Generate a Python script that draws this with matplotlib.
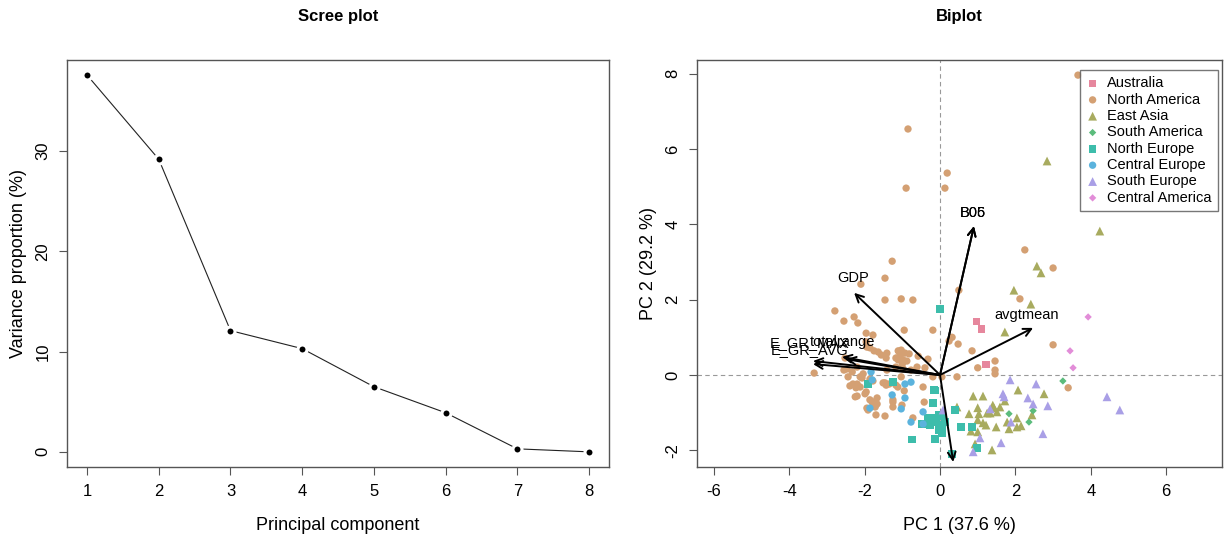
import matplotlib
matplotlib.use("Agg")
import matplotlib.pyplot as plt

plt.rcParams['font.family'] = ['Liberation Sans', 'DejaVu Sans']
plt.rcParams['axes.unicode_minus'] = False

# scree data
pcs = [1, 2, 3, 4, 5, 6, 7, 8]
var_prop = [37.6, 29.2, 12.1, 10.3, 6.5, 3.9, 0.3, 0.0]

# biplot scores per region (PC1, PC2)
australia_x = [0.98, 1.11, 1.22]
australia_y = [1.41, 1.22, 0.27]

north_america_x = [3.66, -0.85, 0.19, -0.90, 0.13, 2.25, 3.00, 2.12, -1.27, -1.46, -2.10, 0.50,
                   -1.46, -1.03, -0.72, -0.95, -0.19, 0.32, 0.24, 0.48, 0.85, -1.11, -1.03, -0.82,
                   -0.58, -0.32, -1.14, -0.98, -1.00, -0.61, -0.40, 1.00, 1.46, 1.46, 1.46, 0.45,
                   -0.19, -1.03, 3.00, 3.40, -0.45, -0.95, -1.25, -1.01, -0.42, -0.72, -2.79, -2.28,
                   -2.55, -2.18, -1.96, -1.78, -1.96, -1.75, -1.64, -1.41, -1.43, -1.17, -0.77, -1.41,
                   -2.47, -2.44, -3.34, -2.31, -2.39, -2.23, -2.12, -2.12, -2.07, -2.20, -1.96, -1.86,
                   -1.67, -1.78, -1.72, -1.67, -1.70, -1.46, -1.25, -1.25, -1.46, -1.43, -1.17, -1.12,
                   0.05, -2.55, -2.33, -2.04, -2.20, -1.86, -1.78, -1.99, -2.25, -1.80, -1.94, -1.91,
                   -1.51, -1.35, -1.94, -1.86, -1.56, -1.06, -0.93, -1.11, -0.88, -1.17, -0.98, -2.52,
                   -2.20]
north_america_y = [7.96, 6.53, 5.36, 4.96, 4.96, 3.32, 2.84, 2.02, 3.02, 2.57, 2.41, 2.25,
                   1.99, 2.02, 1.99, 1.19, 1.19, 1.00, 0.90, 0.82, 0.64, 0.64, 0.66, 0.56,
                   0.50, 0.42, 0.45, 0.40, 0.29, 0.21, 0.19, 0.19, 0.37, 0.13, 0.03, -0.05,
                   -0.05, -0.05, 0.80, -0.34, -0.32, -0.42, -0.72, -0.80, -0.72, -1.14, 1.70, 1.54,
                   1.43, 1.38, 1.11, 1.06, 0.88, 0.64, 0.61, 0.58, 0.45, 0.45, 0.13, 0.13,
                   0.16, -0.05, 0.05, -0.24, -0.29, -0.34, -0.05, -0.32, -0.08, -0.56, -0.45, -0.66,
                   -0.61, -0.72, -0.85, -0.77, -1.06, -1.09, -0.66, -0.85, -0.21, -0.27, -0.27, -0.32,
                   -0.05, 0.13, 0.08, 0.03, -0.24, -0.11, -0.16, -0.50, -0.58, -0.72, -0.88, -0.93,
                   -0.21, -0.24, 0.74, 0.72, 0.53, 0.50, 0.58, 0.40, 0.37, 0.21, 0.16, 0.45,
                   0.21]

east_asia_x = [2.84, 4.24, 2.57, 2.68, 1.96, 2.41, 1.72, 2.07, 2.76, 0.88, 1.14, 1.00, 1.40, 1.43,
               1.59, 0.77, 1.03, 1.25, 1.33, 1.51, 2.44, 2.04, 1.78, 2.15, 2.04, 1.83, 1.00, 1.14,
               1.22, 1.49, 0.82, 1.00, 0.93, 1.38, 1.72, 0.45]
east_asia_y = [5.68, 3.82, 2.89, 2.71, 2.25, 1.88, 1.14, -0.40, -0.50, -0.56, -0.56, -0.87, -0.80, -0.87,
               -0.85, -1.03, -1.03, -1.01, -1.01, -0.98, -1.06, -1.14, -1.25, -1.35, -1.38, -1.43, -1.19, -1.27,
               -1.33, -1.38, -1.49, -1.51, -1.83, -1.99, -0.69, -0.85]

south_america_x = [3.26, 1.83, 2.47, 2.36]
south_america_y = [-0.16, -1.03, -0.95, -1.25]

north_europe_x = [0.00, 0.56, 0.85, 0.98, -0.13, -0.19, 0.40, -0.32, -0.21, -0.27, -0.11, -0.03,
                  0.08, 0.13, 0.05, -0.48, -0.03, 0.05, -0.13, -0.74, 0.32, -1.25, -1.91, -0.16]
north_europe_y = [1.75, -1.38, -1.38, -1.94, -0.42, -0.74, -0.93, -1.14, -1.14, -1.33, -1.27, -1.06,
                  -1.11, -1.25, -1.33, -1.30, -1.46, -1.54, -1.70, -1.72, -2.10, -0.19, -0.24, -0.40]

central_europe_x = [-0.93, -0.77, -1.27, -1.03, -0.45, -0.77, -1.83, -1.86, -0.45, -0.93, -1.80]
central_europe_y = [-0.24, -0.19, -0.53, -0.90, -0.98, -1.25, 0.08, -0.88, -1.30, -0.61, -0.13]

south_europe_x = [1.86, 2.55, 1.67, 1.70, 2.33, 2.47, 2.86, 1.33, 1.88, 2.73, 1.06, 0.88, 1.62,
                  4.43, 4.77, 0.08]
south_europe_y = [-0.13, -0.24, -0.50, -0.58, -0.61, -0.77, -0.82, -0.90, -1.25, -1.56, -1.67, -2.04, -1.80,
                  -0.58, -0.93, -0.93]

central_america_x = [3.93, 3.45, 3.53]
central_america_y = [1.54, 0.64, 0.19]

# loadings (arrow tips) and labels
var_names = ["B05", "B06", "GDP", "avgtmean", "E_GR_MAX", "E_GR_AVG", "totalrange", "totalprec", "prec_sd"]
load_x = [0.90, 0.90, -2.28, 2.47, -3.37, -3.37, -2.60, -2.49, 0.35]
load_y = [3.95, 3.95, 2.18, 1.25, 0.37, 0.29, 0.48, 0.42, -2.31]
label_x = [0.88, 0.88, -2.31, 2.31, -3.45, -3.45, -2.60, None, 0.38]
label_y = [4.30, 4.30, 2.57, 1.59, 0.85, 0.67, 0.87, None, -2.75]

groups = [
    ("Australia", australia_x, australia_y, "s", "#E6879D", 26),
    ("North America", north_america_x, north_america_y, "o", "#D4A073", 28),
    ("East Asia", east_asia_x, east_asia_y, "^", "#A8AB5F", 40),
    ("South America", south_america_x, south_america_y, "D", "#5BBC7C", 14),
    ("North Europe", north_europe_x, north_europe_y, "s", "#3DBDAB", 28),
    ("Central Europe", central_europe_x, central_europe_y, "o", "#5BB3DD", 28),
    ("South Europe", south_europe_x, south_europe_y, "^", "#A99FE6", 40),
    ("Central America", central_america_x, central_america_y, "D", "#E28DD8", 14),
]

fig = plt.figure(figsize=(12.24, 5.41), dpi=100)
ax1 = fig.add_axes([0.0547, 0.137, 0.443, 0.752])
ax2 = fig.add_axes([0.5694, 0.137, 0.4289, 0.752])

frame_col = "#555555"
for ax in (ax1, ax2):
    for s in ax.spines.values():
        s.set_color(frame_col)
        s.set_linewidth(1.0)
    ax.tick_params(direction="out", length=6, width=0.8, color=frame_col,
                   labelsize=12, pad=6)

# scree plot
ax1.plot(pcs, var_prop, color="#222222", lw=0.8, marker="o", markersize=6.5,
         markerfacecolor="black", markeredgecolor="white", markeredgewidth=2.2)
ax1.set_xlim(0.72, 8.28)
ax1.set_ylim(-1.5, 39.1)
ax1.set_xticks(pcs)
ax1.set_yticks([0, 10, 20, 30])
ax1.set_yticklabels(["0", "10", "20", "30"], rotation=90, va="center")
ax1.set_xlabel("Principal component", fontsize=13, labelpad=13)
ax1.set_ylabel("Variance proportion (%)", fontsize=13, labelpad=6)
ax1.set_title("Scree plot", fontsize=12, fontweight="bold", pad=28)

# biplot
ax2.axhline(0, color="#999999", lw=0.8, ls=(0, (4, 3)), zorder=1)
ax2.axvline(0, color="#999999", lw=0.8, ls=(0, (4, 3)), zorder=1)
for name, gx, gy, mk, col, sz in groups:
    ax2.scatter(gx, gy, marker=mk, s=sz, color=col, edgecolors="none", label=name, zorder=2)

for i, name in enumerate(var_names):
    ax2.annotate("", xy=(load_x[i], load_y[i]), xytext=(0, 0),
                 arrowprops=dict(arrowstyle="->", color="black", lw=1.4,
                                 mutation_scale=14, shrinkA=0, shrinkB=0), zorder=3)
    if label_x[i] is not None:
        ax2.text(label_x[i], label_y[i], name, fontsize=10.5, ha="center", va="center",
                 zorder=4, clip_on=True)

ax2.set_xlim(-6.45, 7.48)
ax2.set_ylim(-2.44, 8.36)
ax2.set_xticks([-6, -4, -2, 0, 2, 4, 6])
ax2.set_yticks([-2, 0, 2, 4, 6, 8])
ax2.set_yticklabels(["-2", "0", "2", "4", "6", "8"], rotation=90, va="center")
ax2.set_xlabel("PC 1 (37.6 %)", fontsize=13, labelpad=13)
ax2.set_ylabel("PC 2 (29.2 %)", fontsize=13, labelpad=6)
ax2.set_title("Biplot", fontsize=12, fontweight="bold", pad=28)

leg = ax2.legend(loc="upper right", bbox_to_anchor=(0.993, 0.976), fontsize=10.5,
                 frameon=True, fancybox=False, borderpad=0.45, labelspacing=0.16,
                 handletextpad=0.6, handlelength=0.8, borderaxespad=0)
leg.get_frame().set_edgecolor("#555555")
leg.get_frame().set_linewidth(1.0)

fig.savefig("out.png", dpi=100)
